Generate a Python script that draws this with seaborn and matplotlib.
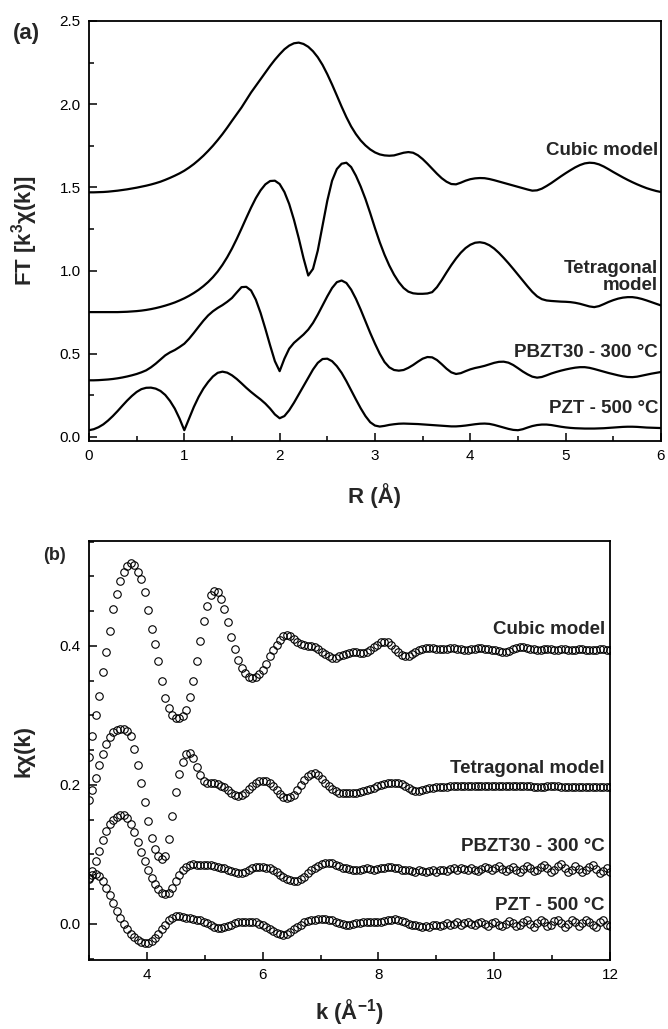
import numpy as np
import pandas as pd
import matplotlib
matplotlib.use("Agg")
import matplotlib.pyplot as plt
import seaborn as sns
from matplotlib.ticker import MultipleLocator, FormatStrFormatter

# ---------------- (a) Fourier transforms, R = 0..6 Å in 0.05 Å steps ----------------
r_values = np.round(np.arange(121) * 0.05, 2)

ft_cubic = [
    1.470, 1.470, 1.471, 1.472, 1.474, 1.477, 1.480, 1.484, 1.488, 1.493,
    1.498, 1.504, 1.510, 1.517, 1.525, 1.534, 1.545, 1.557, 1.570, 1.584,
    1.600, 1.619, 1.640, 1.664, 1.690, 1.719, 1.750, 1.784, 1.820, 1.859,
    1.900, 1.940, 1.980, 2.025, 2.070, 2.110, 2.150, 2.190, 2.230, 2.267,
    2.300, 2.330, 2.352, 2.366, 2.370, 2.362, 2.345, 2.318, 2.282, 2.236,
    2.180, 2.118, 2.052, 1.985, 1.922, 1.866, 1.820, 1.782, 1.752, 1.728,
    1.710, 1.698, 1.692, 1.690, 1.692, 1.700, 1.708, 1.712, 1.708, 1.693,
    1.670, 1.642, 1.612, 1.582, 1.555, 1.534, 1.520, 1.518, 1.528, 1.540,
    1.549, 1.554, 1.556, 1.555, 1.550, 1.543, 1.535, 1.527, 1.519, 1.511,
    1.503, 1.495, 1.487, 1.480, 1.482, 1.492, 1.508, 1.526, 1.546, 1.566,
    1.585, 1.603, 1.620, 1.634, 1.644, 1.648, 1.646, 1.638, 1.625, 1.609,
    1.592, 1.576, 1.560, 1.545, 1.531, 1.518, 1.506, 1.495, 1.486, 1.478,
    1.472]

ft_tetragonal = [
    0.750, 0.750, 0.750, 0.750, 0.750, 0.750, 0.750, 0.751, 0.752, 0.754,
    0.756, 0.759, 0.763, 0.768, 0.774, 0.781, 0.789, 0.798, 0.808, 0.820,
    0.833, 0.848, 0.865, 0.884, 0.906, 0.931, 0.960, 0.994, 1.034, 1.080,
    1.132, 1.190, 1.252, 1.316, 1.378, 1.435, 1.482, 1.518, 1.538, 1.540,
    1.520, 1.472, 1.400, 1.305, 1.195, 1.075, 0.970, 1.010, 1.120, 1.270,
    1.420, 1.540, 1.610, 1.642, 1.648, 1.622, 1.570, 1.505, 1.430, 1.345,
    1.255, 1.170, 1.095, 1.030, 0.975, 0.930, 0.895, 0.873, 0.863, 0.860,
    0.860, 0.862, 0.870, 0.900, 0.942, 0.988, 1.032, 1.072, 1.107, 1.135,
    1.155, 1.167, 1.170, 1.165, 1.152, 1.132, 1.106, 1.076, 1.044, 1.010,
    0.975, 0.940, 0.905, 0.872, 0.845, 0.828, 0.820, 0.817, 0.815, 0.813,
    0.812, 0.810, 0.806, 0.800, 0.792, 0.784, 0.780, 0.786, 0.798, 0.811,
    0.822, 0.831, 0.837, 0.840, 0.840, 0.836, 0.829, 0.820, 0.810, 0.800,
    0.790]

ft_pbzt30 = [
    0.340, 0.340, 0.341, 0.343, 0.345, 0.348, 0.352, 0.357, 0.363, 0.370,
    0.378, 0.388, 0.400, 0.418, 0.440, 0.465, 0.490, 0.508, 0.522, 0.540,
    0.560, 0.590, 0.625, 0.662, 0.698, 0.730, 0.755, 0.775, 0.792, 0.812,
    0.835, 0.868, 0.900, 0.902, 0.880, 0.825, 0.745, 0.650, 0.550, 0.455,
    0.395, 0.470, 0.530, 0.565, 0.590, 0.615, 0.645, 0.685, 0.735, 0.790,
    0.845, 0.895, 0.930, 0.940, 0.925, 0.885, 0.830, 0.765, 0.695, 0.625,
    0.560, 0.500, 0.450, 0.418, 0.402, 0.398, 0.402, 0.415, 0.432, 0.452,
    0.470, 0.480, 0.478, 0.462, 0.437, 0.410, 0.388, 0.378, 0.383, 0.395,
    0.406, 0.414, 0.420, 0.427, 0.436, 0.445, 0.451, 0.452, 0.446, 0.432,
    0.413, 0.393, 0.376, 0.362, 0.356, 0.360, 0.370, 0.381, 0.390, 0.398,
    0.405, 0.411, 0.416, 0.419, 0.419, 0.415, 0.408, 0.400, 0.392, 0.384,
    0.377, 0.370, 0.364, 0.360, 0.359, 0.362, 0.368, 0.374, 0.380, 0.385,
    0.390]

ft_pzt500 = [
    0.040, 0.046, 0.058, 0.075, 0.098, 0.125, 0.155, 0.187, 0.218, 0.246,
    0.270, 0.287, 0.295, 0.296, 0.290, 0.276, 0.252, 0.216, 0.170, 0.110,
    0.040, 0.110, 0.180, 0.240, 0.290, 0.330, 0.363, 0.385, 0.392, 0.386,
    0.370, 0.348, 0.322, 0.295, 0.270, 0.247, 0.225, 0.200, 0.170, 0.135,
    0.112, 0.125, 0.160, 0.205, 0.255, 0.305, 0.355, 0.405, 0.445, 0.468,
    0.470, 0.455, 0.425, 0.385, 0.335, 0.280, 0.225, 0.172, 0.125, 0.088,
    0.068, 0.062, 0.066, 0.072, 0.076, 0.079, 0.080, 0.079, 0.078, 0.077,
    0.075, 0.073, 0.071, 0.069, 0.067, 0.065, 0.063, 0.063, 0.065, 0.068,
    0.072, 0.076, 0.079, 0.080, 0.078, 0.072, 0.064, 0.056, 0.048, 0.042,
    0.040, 0.046, 0.056, 0.065, 0.071, 0.074, 0.074, 0.071, 0.066, 0.061,
    0.057, 0.054, 0.052, 0.051, 0.050, 0.050, 0.050, 0.051, 0.052, 0.054,
    0.056, 0.058, 0.060, 0.061, 0.061, 0.060, 0.058, 0.056, 0.055, 0.054,
    0.053]

ft_names = ["Cubic model", "Tetragonal\nmodel", "PBZT30 - 300 °C", "PZT - 500 °C"]
ft_label_y = [1.72, 0.96, 0.51, 0.17]

# ---------------- (b) k-weighted EXAFS, k = 3..12 Å^-1 in 0.06 steps ----------------
k_values = np.round(3.0 + 0.06 * np.arange(151), 2)

kchi_cubic = [
    0.240, 0.270, 0.300, 0.328, 0.362, 0.392, 0.422, 0.453, 0.475, 0.493,
    0.506, 0.515, 0.519, 0.517, 0.507, 0.496, 0.478, 0.452, 0.425, 0.403,
    0.378, 0.349, 0.325, 0.310, 0.301, 0.296, 0.296, 0.299, 0.308, 0.326,
    0.350, 0.378, 0.407, 0.436, 0.457, 0.473, 0.479, 0.477, 0.467, 0.453,
    0.434, 0.413, 0.395, 0.380, 0.368, 0.361, 0.356, 0.354, 0.355, 0.359,
    0.365, 0.374, 0.385, 0.394, 0.402, 0.409, 0.414, 0.416, 0.414, 0.410,
    0.406, 0.403, 0.401, 0.400, 0.400, 0.398, 0.396, 0.392, 0.388, 0.385,
    0.383, 0.383, 0.385, 0.387, 0.389, 0.390, 0.391, 0.391, 0.390, 0.390,
    0.391, 0.394, 0.398, 0.402, 0.405, 0.406, 0.405, 0.401, 0.396, 0.391,
    0.387, 0.385, 0.386, 0.388, 0.391, 0.394, 0.396, 0.397, 0.397, 0.397,
    0.396, 0.395, 0.395, 0.396, 0.397, 0.397, 0.396, 0.395, 0.394, 0.394,
    0.395, 0.396, 0.397, 0.397, 0.396, 0.395, 0.394, 0.394, 0.393, 0.392,
    0.392, 0.393, 0.395, 0.397, 0.398, 0.398, 0.397, 0.396, 0.395, 0.394,
    0.394, 0.395, 0.395, 0.395, 0.394, 0.394, 0.395, 0.395, 0.394, 0.394,
    0.394, 0.395, 0.395, 0.394, 0.394, 0.394, 0.394, 0.395, 0.395, 0.394,
    0.394]

kchi_tetragonal = [
    0.178, 0.193, 0.210, 0.228, 0.245, 0.259, 0.269, 0.276, 0.279, 0.280,
    0.280, 0.278, 0.270, 0.252, 0.228, 0.203, 0.175, 0.148, 0.124, 0.108,
    0.097, 0.093, 0.098, 0.122, 0.155, 0.190, 0.215, 0.233, 0.244, 0.246,
    0.238, 0.226, 0.214, 0.206, 0.203, 0.202, 0.202, 0.201, 0.199, 0.197,
    0.193, 0.189, 0.186, 0.184, 0.185, 0.189, 0.194, 0.199, 0.203, 0.205,
    0.206, 0.205, 0.203, 0.199, 0.193, 0.187, 0.183, 0.181, 0.182, 0.186,
    0.192, 0.200, 0.207, 0.213, 0.216, 0.217, 0.214, 0.209, 0.203, 0.198,
    0.194, 0.191, 0.189, 0.188, 0.188, 0.188, 0.188, 0.189, 0.190, 0.191,
    0.192, 0.194, 0.196, 0.198, 0.200, 0.201, 0.202, 0.203, 0.203, 0.203,
    0.201, 0.198, 0.195, 0.192, 0.191, 0.191, 0.192, 0.194, 0.195, 0.196,
    0.197, 0.197, 0.197, 0.197, 0.198, 0.198, 0.198, 0.198, 0.199, 0.199,
    0.199, 0.199, 0.199, 0.199, 0.198, 0.198, 0.198, 0.198, 0.198, 0.198,
    0.198, 0.198, 0.199, 0.199, 0.199, 0.198, 0.198, 0.198, 0.197, 0.197,
    0.197, 0.197, 0.198, 0.198, 0.198, 0.198, 0.197, 0.197, 0.197, 0.197,
    0.197, 0.197, 0.197, 0.197, 0.197, 0.197, 0.197, 0.197, 0.197, 0.197,
    0.197]

kchi_pbzt30 = [
    0.066, 0.076, 0.090, 0.105, 0.120, 0.133, 0.143, 0.150, 0.154, 0.156,
    0.156, 0.153, 0.144, 0.132, 0.118, 0.104, 0.090, 0.077, 0.066, 0.057,
    0.050, 0.045, 0.043, 0.045, 0.052, 0.061, 0.070, 0.077, 0.082, 0.085,
    0.086, 0.085, 0.085, 0.085, 0.084, 0.084, 0.083, 0.082, 0.081, 0.080,
    0.078, 0.076, 0.074, 0.073, 0.073, 0.075, 0.078, 0.080, 0.082, 0.082,
    0.082, 0.081, 0.080, 0.078, 0.075, 0.071, 0.068, 0.065, 0.063, 0.062,
    0.062, 0.064, 0.068, 0.073, 0.077, 0.080, 0.083, 0.086, 0.088, 0.088,
    0.087, 0.085, 0.083, 0.081, 0.080, 0.079, 0.078, 0.078, 0.078, 0.079,
    0.080, 0.079, 0.078, 0.079, 0.080, 0.081, 0.082, 0.082, 0.081, 0.080,
    0.078, 0.077, 0.078, 0.076, 0.075, 0.077, 0.076, 0.074, 0.076, 0.077,
    0.075, 0.077, 0.078, 0.076, 0.079, 0.080, 0.078, 0.081, 0.079, 0.077,
    0.080, 0.078, 0.076, 0.079, 0.082, 0.080, 0.077, 0.080, 0.083, 0.079,
    0.076, 0.079, 0.082, 0.078, 0.075, 0.079, 0.083, 0.080, 0.076, 0.078,
    0.082, 0.085, 0.080, 0.074, 0.077, 0.083, 0.086, 0.081, 0.075, 0.078,
    0.083, 0.079, 0.074, 0.077, 0.082, 0.084, 0.079, 0.073, 0.076, 0.080,
    0.075]

kchi_pzt500 = [
    0.064, 0.070, 0.072, 0.069, 0.062, 0.052, 0.041, 0.030, 0.019, 0.009,
    0.000, -0.008, -0.014, -0.019, -0.023, -0.026, -0.027, -0.027, -0.025, -0.021,
    -0.015, -0.008, -0.001, 0.005, 0.009, 0.011, 0.011, 0.010, 0.009, 0.008,
    0.007, 0.006, 0.005, 0.003, 0.001, -0.002, -0.005, -0.006, -0.006, -0.005,
    -0.003, -0.001, 0.001, 0.002, 0.003, 0.003, 0.003, 0.003, 0.002, 0.000,
    -0.002, -0.005, -0.008, -0.011, -0.013, -0.015, -0.016, -0.015, -0.012, -0.008,
    -0.004, -0.001, 0.002, 0.004, 0.005, 0.006, 0.007, 0.007, 0.007, 0.006,
    0.005, 0.003, 0.001, 0.000, -0.001, -0.001, 0.000, 0.001, 0.001, 0.002,
    0.002, 0.002, 0.003, 0.003, 0.003, 0.004, 0.005, 0.006, 0.007, 0.006,
    0.004, 0.002, 0.000, -0.001, -0.002, -0.003, -0.004, -0.003, -0.004, -0.002,
    -0.001, -0.003, -0.001, 0.001, -0.002, 0.000, 0.002, -0.001, 0.001, 0.003,
    0.000, -0.002, 0.001, 0.003, 0.000, -0.003, 0.001, 0.003, -0.001, -0.003,
    0.000, 0.004, 0.001, -0.003, -0.001, 0.003, 0.005, 0.000, -0.004, 0.001,
    0.005, 0.002, -0.003, -0.001, 0.004, 0.006, 0.001, -0.004, 0.000, 0.005,
    0.002, -0.003, 0.001, 0.006, 0.003, -0.002, -0.004, 0.002, 0.005, -0.001,
    -0.003]

kchi_names = ["Cubic model", "Tetragonal model", "PBZT30 - 300 °C", "PZT - 500 °C"]
kchi_label_y = [0.423, 0.224, 0.111, 0.027]

# ---------------- styling ----------------
sns.set_theme(style="ticks")
plt.rcParams["font.family"] = ["Liberation Sans", "DejaVu Sans"]
plt.rcParams["mathtext.fontset"] = "custom"
plt.rcParams["mathtext.rm"] = "Liberation Sans"
plt.rcParams["mathtext.bf"] = "Liberation Sans:bold"
plt.rcParams["mathtext.default"] = "bf"
plt.rcParams["axes.edgecolor"] = "black"
plt.rcParams["axes.linewidth"] = 1.3

fig = plt.figure(figsize=(6.68, 10.29), dpi=100)
ax1 = fig.add_axes([0.1332, 0.5714, 0.8563, 0.4082])
ax2 = fig.add_axes([0.1332, 0.0671, 0.7800, 0.4071])

# panel (a): solid lines
ft_df = pd.DataFrame({
    "R": np.tile(r_values, 4),
    "FT": ft_cubic + ft_tetragonal + ft_pbzt30 + ft_pzt500,
    "sample": np.repeat(ft_names, len(r_values)),
})
for name in ft_names:
    sns.lineplot(data=ft_df[ft_df["sample"] == name], x="R", y="FT",
                 color="black", linewidth=1.6, ax=ax1)
for name, yv in zip(ft_names, ft_label_y):
    ax1.text(5.97, yv, name, ha="right", va="center", multialignment="right",
             fontsize=13.5, fontweight="bold", linespacing=1.0)

# panel (b): open circles
kchi_df = pd.DataFrame({
    "k": np.tile(k_values, 4),
    "kchi": kchi_cubic + kchi_tetragonal + kchi_pbzt30 + kchi_pzt500,
    "sample": np.repeat(kchi_names, len(k_values)),
})
for name in kchi_names:
    sns.lineplot(data=kchi_df[kchi_df["sample"] == name], x="k", y="kchi",
                 linestyle="", marker="o", markersize=5.4,
                 markerfacecolor="none", markeredgecolor="black",
                 markeredgewidth=0.8, color="black", ax=ax2)
for name, yv in zip(kchi_names, kchi_label_y):
    ax2.text(11.91, yv, name, ha="right", va="center",
             fontsize=13.5, fontweight="bold")

# axes
ax1.set_xlim(0, 6)
ax1.set_ylim(-0.025, 2.5)
ax1.xaxis.set_major_locator(MultipleLocator(1))
ax1.xaxis.set_minor_locator(MultipleLocator(0.5))
ax1.yaxis.set_major_locator(MultipleLocator(0.5))
ax1.yaxis.set_minor_locator(MultipleLocator(0.25))
ax1.yaxis.set_major_formatter(FormatStrFormatter("%.1f"))
ax1.set_xlabel("R (Å)", fontsize=16, fontweight="bold")
ax1.set_ylabel("FT [k$^{3}$χ(k)]", fontsize=16, fontweight="bold")
ax1.xaxis.set_label_coords(0.5, -0.100)
ax1.yaxis.set_label_coords(-0.086, 0.5)

ax2.set_xlim(3, 12)
ax2.set_ylim(-0.052, 0.551)
ax2.xaxis.set_major_locator(MultipleLocator(2))
ax2.xaxis.set_minor_locator(MultipleLocator(1))
ax2.yaxis.set_major_locator(MultipleLocator(0.2))
ax2.yaxis.set_minor_locator(MultipleLocator(0.05))
ax2.yaxis.set_major_formatter(FormatStrFormatter("%.1f"))
ax2.set_xlabel("k (Å$^{-1}$)", fontsize=16, fontweight="bold")
ax2.set_ylabel("kχ(k)", fontsize=16, fontweight="bold")
ax2.xaxis.set_label_coords(0.5, -0.088)
ax2.yaxis.set_label_coords(-0.104, 0.5)

for ax in (ax1, ax2):
    for s in ax.spines.values():
        s.set_visible(True)
        s.set_color("black")
        s.set_linewidth(1.3)
    ax.tick_params(which="both", direction="in", top=False, right=False,
                   colors="black", labelsize=11, width=1.1)
    ax.tick_params(which="major", length=6, pad=6)
    ax.tick_params(which="minor", length=3.5)

fig.text(26 / 668, 1 - 33 / 1029, "(a)", fontsize=16, fontweight="bold",
         ha="center", va="center")
fig.text(54 / 668, 1 - 555 / 1029, "(b)", fontsize=13, fontweight="bold",
         ha="center", va="center")

fig.savefig("out.png", dpi=100, facecolor="white")
